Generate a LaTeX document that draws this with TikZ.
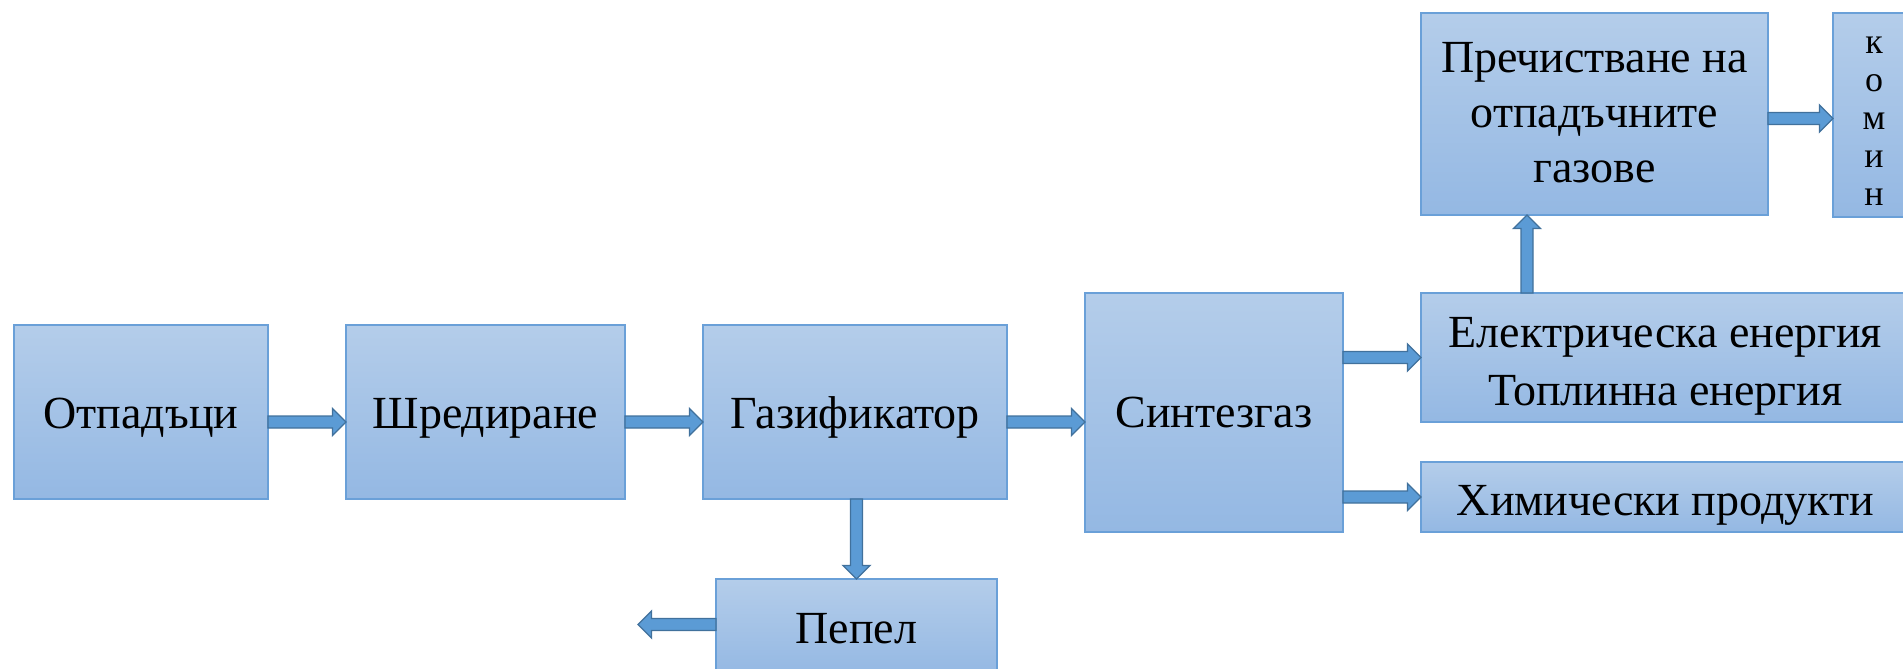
\documentclass[tikz,border=0pt]{standalone}
\usepackage{fontspec}
\setmainfont{Liberation Serif}
\usetikzlibrary{calc}
\definecolor{boxtop}{RGB}{180,205,234}
\definecolor{boxbot}{RGB}{148,184,227}
\definecolor{boxline}{RGB}{106,160,216}
\definecolor{arrfill}{RGB}{91,155,213}
\definecolor{arrline}{RGB}{65,113,156}
\begin{document}
\begin{tikzpicture}[x=1pt,y=-1pt,
 box/.style={rectangle, top color=boxtop, bottom color=boxbot, draw=boxline,
   line width=1.3pt, inner sep=0pt, outer sep=0pt, align=center,
   font=\fontsize{46}{56}\selectfont},
 oneline/.style={text height=41pt, text depth=9pt},
 barrow/.style={draw=arrline, fill=arrfill, line width=1.3pt, line join=miter,
  to path={($(\tikztostart)!6pt!90:(\tikztotarget)$)
   -- ($($(\tikztotarget)!13.5pt!(\tikztostart)$)!6pt!90:(\tikztotarget)$)
   -- ($($(\tikztotarget)!13.5pt!(\tikztostart)$)!13.5pt!90:(\tikztotarget)$)
   -- (\tikztotarget)
   -- ($($(\tikztotarget)!13.5pt!(\tikztostart)$)!13.5pt!-90:(\tikztotarget)$)
   -- ($($(\tikztotarget)!13.5pt!(\tikztostart)$)!6pt!-90:(\tikztotarget)$)
   -- ($(\tikztostart)!6pt!-90:(\tikztotarget)$) -- cycle}}]
\useasboundingbox (0,0) rectangle (1903,669);
\clip (0,0) rectangle (1903,669);

\node[box, oneline, minimum width=254pt, minimum height=174pt] (otp) at (141,412) {Отпадъци};
\node[box, oneline, minimum width=279pt, minimum height=174pt] (shr) at (485.5,412) {Шредиране};
\node[box, oneline, minimum width=304pt, minimum height=174pt] (gas) at (855,412) {Газификатор};
\node[box, oneline, text depth=12pt, minimum width=258pt, minimum height=239pt] (sg) at (1214,412.5) {Синтезгаз};
\node[box, minimum width=489pt, minimum height=129pt, font=\fontsize{46}{58}\selectfont] (elek) at (1665.5,357.5) {};
\node[align=center, font=\fontsize{46}{58}\selectfont, inner sep=0pt] (elekt) at (1665.5,366) {Електрическа енергия\\Топлинна енергия};
\node[box, oneline, text depth=5pt, minimum width=489pt, minimum height=70pt] (him) at (1665.5,497) {Химически продукти};
\node[box, minimum width=347pt, minimum height=202pt] (pre) at (1594.5,114) {};
\node[align=center, font=\fontsize{46}{55}\selectfont, inner sep=0pt] (pret) at (1594.5,112.5) {Пречистване на\\отпадъчните\\газове};
\node[box, minimum width=82pt, minimum height=204pt] (kom) at (1874,115) {};
\node[align=center, font=\fontsize{36}{38}\selectfont, inner sep=0pt] (komt) at (1874,121) {к\\о\\м\\и\\н};
\node[box, oneline, minimum width=281pt, minimum height=96pt] (pep) at (856.5,627) {Пепел};

\coordinate (row) at (0,422);
\coordinate (upx) at (1527,0);
\coordinate (krow) at (0,118.5);
\coordinate (ash) at (638,624.5);

\draw[barrow] (otp.east |- row) to (shr.west |- row);
\draw[barrow] (shr.east |- row) to (gas.west |- row);
\draw[barrow] (gas.east |- row) to (sg.west |- row);
\draw[barrow] (sg.east |- elek.west) to (elek.west);
\draw[barrow] (sg.east |- him.west) to (him.west);
\draw[barrow] (elek.north -| upx) to (pre.south -| upx);
\draw[barrow] (pre.east |- krow) to (kom.west |- krow);
\draw[barrow] (pep.north |- gas.south) to (pep.north);
\draw[barrow] (pep.west |- ash) to (ash);
\end{tikzpicture}
\end{document}
